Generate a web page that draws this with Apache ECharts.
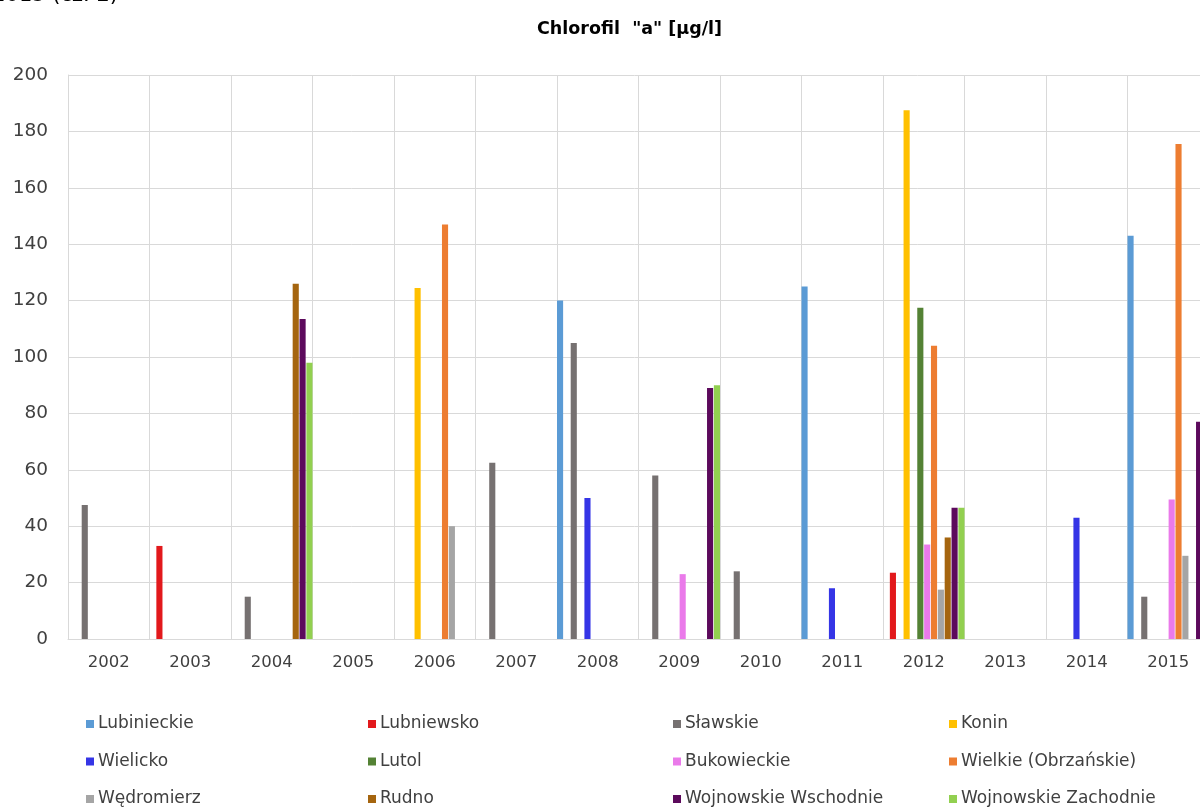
<!DOCTYPE html>
<html>
<head>
<meta charset="utf-8">
<script src="https://cdn.jsdelivr.net/npm/echarts@6/dist/echarts.min.js"></script>
<style>
  html, body { margin: 0; padding: 0; background: #ffffff; }
  #chart { width: 1200px; height: 809px; }
</style>
</head>
<body>
<div id="chart"></div>
<script>
// Chlorophyll "a" concentration per lake, 2002–2015 (µg/l)
const years = ['2002', '2003', '2004', '2005', '2006', '2007', '2008', '2009', '2010', '2011', '2012', '2013', '2014', '2015'];
const yTicks = [0, 20, 40, 60, 80, 100, 120, 140, 160, 180, 200];

const lubinieckie  = [null, null, null, null, null, null, 120, null, null, 125, null, null, null, 143];
const lubniewsko   = [null, 33, null, null, null, null, null, null, null, null, 23.5, null, null, null];
const slawskie     = [47.5, null, 15, null, null, 62.5, 105, 58, 24, null, null, null, null, 15];
const konin        = [null, null, null, null, 124.5, null, null, null, null, null, 187.5, null, null, null];
const wielicko     = [null, null, null, null, null, null, 50, null, null, 18, null, null, 43, null];
const lutol        = [null, null, null, null, null, null, null, null, null, null, 117.5, null, null, null];
const bukowieckie  = [null, null, null, null, null, null, null, 23, null, null, 33.5, null, null, 49.5];
const wielkie      = [null, null, null, null, 147, null, null, null, null, null, 104, null, null, 175.5];
const wedromierz   = [null, null, null, null, 40, null, null, null, null, null, 17.5, null, null, 29.5];
const rudno        = [null, null, 126, null, null, null, null, null, null, null, 36, null, null, null];
const wojnWschodnie = [null, null, 113.5, null, null, null, null, 89, null, null, 46.5, null, null, 77];
const wojnZachodnie = [null, null, 98, null, null, null, null, 90, null, null, 46.5, null, null, null];

const seriesDefs = [
  { name: 'Lubinieckie', data: lubinieckie, color: '#5B9BD5' },
  { name: 'Lubniewsko', data: lubniewsko, color: '#E2191C' },
  { name: 'Sławskie', data: slawskie, color: '#767171' },
  { name: 'Konin', data: konin, color: '#FFC000' },
  { name: 'Wielicko', data: wielicko, color: '#3535E6' },
  { name: 'Lutol', data: lutol, color: '#548235' },
  { name: 'Bukowieckie', data: bukowieckie, color: '#EA7AEA' },
  { name: 'Wielkie (Obrzańskie)', data: wielkie, color: '#ED7D31' },
  { name: 'Wędromierz', data: wedromierz, color: '#A5A5A5' },
  { name: 'Rudno', data: rudno, color: '#A5650F' },
  { name: 'Wojnowskie Wschodnie', data: wojnWschodnie, color: '#5C0A5C' },
  { name: 'Wojnowskie Zachodnie', data: wojnZachodnie, color: '#92D050' }
];

const FONT = '"DejaVu Sans", "Liberation Sans", sans-serif';
const gridColor = '#D9D9D9';
const labelColor = '#404040';

// legend laid out as four columns of three entries
const legendColumns = [
  { left: 86, names: ['Lubinieckie', 'Wielicko', 'Wędromierz'] },
  { left: 368, names: ['Lubniewsko', 'Lutol', 'Rudno'] },
  { left: 673, names: ['Sławskie', 'Bukowieckie', 'Wojnowskie Wschodnie'] },
  { left: 949, names: ['Konin', 'Wielkie (Obrzańskie)', 'Wojnowskie Zachodnie'] }
];

const chart = echarts.init(document.getElementById('chart'), null, { renderer: 'canvas' });

chart.setOption({
  backgroundColor: '#ffffff',
  animation: false,
  title: {
    text: 'Chlorofil  "a" [µg/l]',
    left: 537,
    top: 20,
    padding: 0,
    textStyle: { fontFamily: FONT, fontSize: 17.5, fontWeight: 'bold', color: '#000000' }
  },
  graphic: [{
    type: 'text',
    right: 1200 - 118,
    top: -15,
    style: { text: '2015 (cz. 2)', fontFamily: FONT, fontSize: 21, fill: '#000000' }
  }],
  // the plot runs slightly past the right edge of the page
  grid: { left: 68, top: 75, width: 1141, height: 564, containLabel: false, outerBoundsMode: 'none' },
  xAxis: {
    type: 'category',
    data: years,
    boundaryGap: true,
    axisLine: { show: true, lineStyle: { color: gridColor, width: 1 } },
    axisTick: { show: false },
    axisLabel: { margin: 15, fontFamily: FONT, fontSize: 16.5, color: labelColor, interval: 0 },
    splitLine: { show: true, interval: 0, lineStyle: { color: gridColor, width: 1 } }
  },
  yAxis: {
    type: 'value',
    min: yTicks[0],
    max: yTicks[yTicks.length - 1],
    interval: yTicks[1] - yTicks[0],
    axisLine: { show: true, lineStyle: { color: gridColor, width: 1 } },
    axisTick: { show: false },
    axisLabel: { margin: 20, fontFamily: FONT, fontSize: 18.5, color: labelColor },
    splitLine: { show: true, lineStyle: { color: gridColor, width: 1 } }
  },
  legend: legendColumns.map(col => ({
    orient: 'vertical',
    left: col.left,
    top: 714,
    padding: 0,
    itemWidth: 8,
    itemHeight: 8,
    itemGap: 17.5,
    icon: 'rect',
    selectedMode: false,
    data: col.names,
    textStyle: { fontFamily: FONT, fontSize: 17, color: labelColor, lineHeight: 20, padding: [0, 0, 0, -1] }
  })),
  series: seriesDefs.map(s => ({
    name: s.name,
    type: 'bar',
    data: s.data,
    barGap: '12%',
    barCategoryGap: '0%',
    itemStyle: { color: s.color },
    emphasis: { disabled: true }
  }))
});
</script>
</body>
</html>
